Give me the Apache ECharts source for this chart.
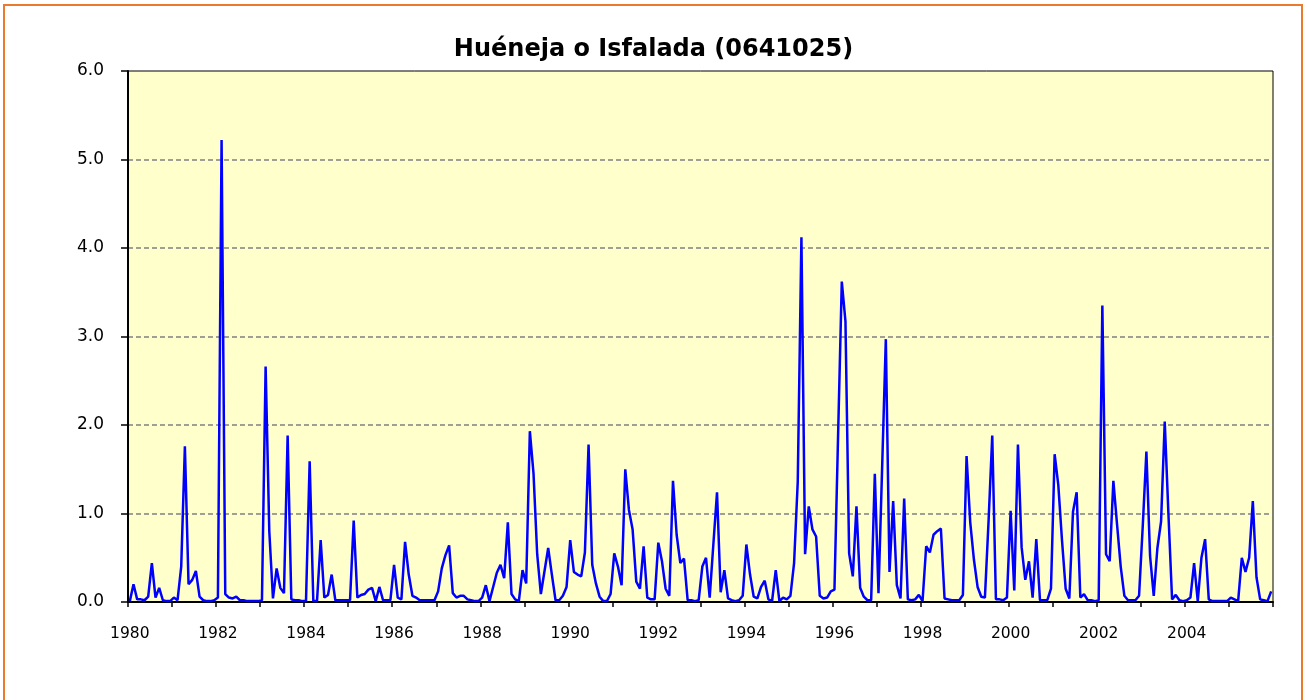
<!DOCTYPE html>
<html>
<head>
<meta charset="utf-8">
<title>Huéneja o Isfalada (0641025)</title>
<script src="https://cdn.jsdelivr.net/npm/echarts@6/dist/echarts.min.js"></script>
<style>
  html, body { margin: 0; padding: 0; background: #ffffff; }
  #wrap { position: relative; width: 1307px; height: 700px; overflow: hidden; }
  #chart { position: absolute; left: 0; top: 0; width: 1307px; height: 700px; }
  #frame {
    position: absolute; left: 3px; top: 4px; width: 1300px; height: 720px;
    border: 2px solid #EC7A2C; box-sizing: border-box; pointer-events: none;
  }
</style>
</head>
<body>
<div id="wrap">
  <div id="chart"></div>
  <div id="frame"></div>
</div>
<script>
// Monthly values, January to December, one array per year
const y1980 = [0.01, 0.20, 0.03, 0.03, 0.02, 0.06, 0.44, 0.05, 0.16, 0.02, 0.01, 0.01];
const y1981 = [0.05, 0.02, 0.40, 1.76, 0.20, 0.25, 0.35, 0.06, 0.02, 0.01, 0.01, 0.02];
const y1982 = [0.05, 5.22, 0.09, 0.05, 0.04, 0.06, 0.02, 0.02, 0.01, 0.01, 0.01, 0.01];
const y1983 = [0.02, 2.66, 0.80, 0.04, 0.38, 0.16, 0.10, 1.88, 0.03, 0.02, 0.02, 0.01];
const y1984 = [0.01, 1.59, 0.01, 0.01, 0.70, 0.05, 0.08, 0.31, 0.02, 0.02, 0.02, 0.02];
const y1985 = [0.02, 0.92, 0.05, 0.08, 0.09, 0.14, 0.16, 0.01, 0.17, 0.02, 0.02, 0.02];
const y1986 = [0.42, 0.05, 0.03, 0.68, 0.31, 0.07, 0.05, 0.02, 0.02, 0.02, 0.02, 0.02];
const y1987 = [0.12, 0.38, 0.53, 0.64, 0.10, 0.05, 0.07, 0.07, 0.03, 0.02, 0.01, 0.01];
const y1988 = [0.05, 0.19, 0.01, 0.17, 0.33, 0.42, 0.27, 0.90, 0.09, 0.03, 0.01, 0.36];
const y1989 = [0.21, 1.93, 1.45, 0.54, 0.09, 0.35, 0.61, 0.31, 0.02, 0.02, 0.07, 0.17];
const y1990 = [0.70, 0.34, 0.31, 0.29, 0.56, 1.78, 0.42, 0.21, 0.06, 0.01, 0.01, 0.09];
const y1991 = [0.55, 0.40, 0.19, 1.50, 1.04, 0.82, 0.23, 0.15, 0.63, 0.05, 0.03, 0.03];
const y1992 = [0.67, 0.46, 0.15, 0.07, 1.37, 0.76, 0.44, 0.49, 0.02, 0.02, 0.01, 0.02];
const y1993 = [0.40, 0.50, 0.05, 0.65, 1.24, 0.11, 0.36, 0.04, 0.02, 0.01, 0.02, 0.07];
const y1994 = [0.65, 0.31, 0.06, 0.04, 0.17, 0.24, 0.03, 0.01, 0.36, 0.01, 0.05, 0.03];
const y1995 = [0.07, 0.44, 1.36, 4.12, 0.54, 1.08, 0.82, 0.74, 0.07, 0.04, 0.05, 0.12];
const y1996 = [0.14, 1.90, 3.62, 3.17, 0.55, 0.29, 1.08, 0.16, 0.06, 0.02, 0.02, 1.45];
const y1997 = [0.10, 1.53, 2.97, 0.34, 1.14, 0.19, 0.04, 1.17, 0.03, 0.02, 0.03, 0.08];
const y1998 = [0.01, 0.63, 0.56, 0.76, 0.80, 0.83, 0.04, 0.03, 0.02, 0.02, 0.02, 0.08];
const y1999 = [1.65, 0.90, 0.48, 0.17, 0.06, 0.05, 0.92, 1.88, 0.03, 0.03, 0.02, 0.05];
const y2000 = [1.03, 0.13, 1.78, 0.62, 0.25, 0.46, 0.05, 0.71, 0.02, 0.02, 0.02, 0.15];
const y2001 = [1.67, 1.32, 0.70, 0.15, 0.04, 1.02, 1.24, 0.05, 0.09, 0.02, 0.02, 0.01];
const y2002 = [0.02, 3.35, 0.54, 0.46, 1.37, 0.88, 0.40, 0.07, 0.02, 0.02, 0.02, 0.07];
const y2003 = [0.85, 1.70, 0.52, 0.07, 0.61, 0.91, 2.04, 1.00, 0.03, 0.08, 0.02, 0.01];
const y2004 = [0.02, 0.05, 0.44, 0.01, 0.50, 0.71, 0.03, 0.01, 0.01, 0.01, 0.01, 0.01];
const y2005 = [0.05, 0.03, 0.01, 0.50, 0.34, 0.50, 1.14, 0.28, 0.03, 0.02, 0.01, 0.12];

const years = [1980, 1981, 1982, 1983, 1984, 1985, 1986, 1987, 1988, 1989, 1990, 1991, 1992,
               1993, 1994, 1995, 1996, 1997, 1998, 1999, 2000, 2001, 2002, 2003, 2004, 2005];
const yearValues = [y1980, y1981, y1982, y1983, y1984, y1985, y1986, y1987, y1988, y1989,
                    y1990, y1991, y1992, y1993, y1994, y1995, y1996, y1997, y1998, y1999,
                    y2000, y2001, y2002, y2003, y2004, y2005];

const yTicks = [0, 1, 2, 3, 4, 5, 6];
const titleText = 'Huéneja o Isfalada (0641025)';

// Month categories "YYYY-MM" and the flat series built from the yearly arrays
const months = [];
const values = [];
years.forEach((yr, i) => {
  yearValues[i].forEach((v, m) => {
    months.push(yr + '-' + String(m + 1).padStart(2, '0'));
    values.push(v);
  });
});

const chart = echarts.init(document.getElementById('chart'), null, { renderer: 'canvas' });

chart.setOption({
  animation: false,
  backgroundColor: '#ffffff',
  title: {
    text: titleText,
    left: 'center',
    top: 33,
    textStyle: {
      fontFamily: 'DejaVu Sans',
      fontWeight: 'bold',
      fontSize: 24,
      color: '#000000'
    }
  },
  grid: {
    left: 128,
    right: 34,
    top: 71,
    bottom: 98,
    show: true,
    backgroundColor: '#FFFFCC',
    borderColor: '#000000',
    borderWidth: 1
  },
  xAxis: {
    type: 'category',
    data: months,
    boundaryGap: true,
    axisLine: { show: true, lineStyle: { color: '#000000', width: 2 } },
    axisTick: {
      show: true,
      interval: 11,
      length: 5,
      lineStyle: { color: '#000000', width: 1.5 }
    },
    axisLabel: {
      interval: 23,
      margin: 24,
      fontFamily: 'DejaVu Sans',
      fontSize: 15.5,
      color: '#000000',
      formatter: v => v.slice(0, 4)
    },
    splitLine: { show: false }
  },
  yAxis: {
    type: 'value',
    min: yTicks[0],
    max: yTicks[yTicks.length - 1],
    interval: 1,
    axisLine: { show: true, lineStyle: { color: '#000000', width: 2 } },
    axisTick: { show: true, length: 7, lineStyle: { color: '#000000', width: 1.5 } },
    axisLabel: {
      margin: 24,
      fontFamily: 'DejaVu Sans',
      fontSize: 17,
      color: '#000000',
      formatter: v => v.toFixed(1)
    },
    splitLine: {
      show: true,
      showMinLine: false,
      showMaxLine: false,
      lineStyle: { color: '#808080', width: 1.5, type: [5, 3] }
    }
  },
  series: [{
    type: 'line',
    data: values,
    showSymbol: false,
    symbol: 'none',
    lineStyle: { color: '#0000FF', width: 2.5 },
    itemStyle: { color: '#0000FF' }
  }]
});
</script>
</body>
</html>
